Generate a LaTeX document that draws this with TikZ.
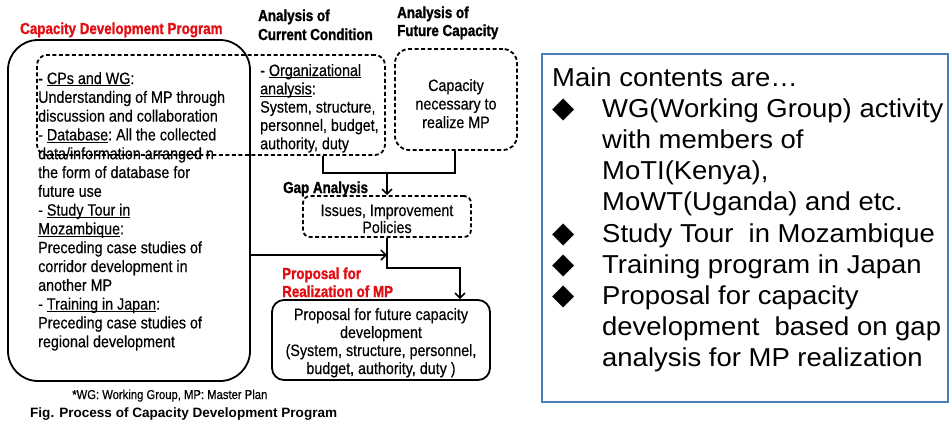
\documentclass[tikz,border=0pt]{standalone}
\usepackage{fontspec}
\setmainfont{Liberation Sans}
\newfontfamily\gothic[FakeStretch=0.87,FakeBold=0.4]{Liberation Sans}
\newfontfamily\headfont[FakeStretch=0.84,BoldFeatures={FakeBold=1.3}]{Liberation Sans}
\newfontfamily\bulletfont{DejaVu Sans}
\newfontfamily\rbfont[FakeStretch=1.06]{Liberation Sans}
\usetikzlibrary{arrows.meta}
\definecolor{cdred}{RGB}{225,15,20}
\definecolor{framebl}{RGB}{74,126,187}
\newcommand\ulx[1]{\underline{\smash{#1}}}
\begin{document}
\begin{tikzpicture}[x=1bp,y=-1bp,
  solidbox/.style={draw, line width=1.8bp, rounded corners=#1, inner sep=0},
  dashbox/.style={draw, line width=1.8bp, dash pattern=on 4bp off 2.5bp, rounded corners=#1, inner sep=0},
  conn/.style={line width=1.7bp},
  arr/.style={conn, -{Straight Barb[length=5bp,width=10bp,line width=1.5bp]}},
  txt/.style={font=\gothic\fontsize{16.5}{18.8}\selectfont, inner sep=0, anchor=base west},
  ctxt/.style={font=\gothic\fontsize{16.5}{18.8}\selectfont, inner sep=0, anchor=base},
  hd/.style={font=\headfont\bfseries\fontsize{16}{19}\selectfont, inner sep=0, anchor=base west},
  rtxt/.style={font=\rbfont\fontsize{26}{30}\selectfont, inner sep=0, anchor=base west},
  bul/.style={font=\bulletfont\fontsize{29}{30}\selectfont, inner sep=0, anchor=base}]
\useasboundingbox (0,0) rectangle (950,421);

% boxes
\node[solidbox=30bp, minimum width=242bp, minimum height=341bp] (cdp) at (129,210.5) {};
\node[dashbox=10bp, minimum width=348bp, minimum height=100bp] (cur) at (211,105) {};
\node[dashbox=14bp, minimum width=122bp, minimum height=101bp] (fut) at (456,99.5) {};
\node[dashbox=7bp, minimum width=168bp, minimum height=41bp] (gap) at (387,216.5) {};
\node[solidbox=12bp, minimum width=218bp, minimum height=80bp] (prop) at (381,340) {};
\node[draw=framebl, line width=1.6bp, minimum width=406bp, minimum height=348bp, inner sep=0] (rbox) at (745,228) {};

% headers
\node[hd, text=cdred] (h1) at (20,34) {Capacity Development Program};
\node[hd] (h2a) at (258,21) {Analysis of};
\node[hd] (h2b) at (258,40) {Current Condition};
\node[hd] (h3a) at (397,18) {Analysis of};
\node[hd] (h3b) at (397,36) {Future Capacity};
\node[hd] (h4) at (283,193) {Gap Analysis};
\node[hd, text=cdred] (h5a) at (282,279) {Proposal for};
\node[hd, text=cdred] (h5b) at (282,297) {Realization of MP};

% left box text
\foreach \t [count=\i] in {
 {- \ulx{CPs and WG}:},
 {Understanding of MP through},
 {discussion and collaboration},
 {- \ulx{Database}:\ All the collected},
 {data/information arranged n},
 {the form of database for},
 {future use},
 {- \ulx{Study Tour in}},
 {\ulx{Mozambique}:},
 {Preceding case studies of},
 {corridor development in},
 {another MP},
 {- \ulx{Training in Japan}:},
 {Preceding case studies of},
 {regional development}}
 \node[txt] (L\i) at (38,{84+(\i-1)*18.8}) {\t};

% current condition text
\foreach \t [count=\i] in {
 {- \ulx{Organizational}},
 {\ulx{analysis}:},
 {System, structure,},
 {personnel, budget,},
 {authority, duty}}
 \node[txt] (C\i) at (260,{76+(\i-1)*18.3}) {\t};

% future capacity text
\foreach \t [count=\i] in {{Capacity},{necessary to},{realize MP}}
 \node[ctxt] (F\i) at (456,{91+(\i-1)*18.5}) {\t};

% gap text
\node[ctxt] (G1) at (387,216) {Issues, Improvement};
\node[ctxt] (G2) at (387,233) {Policies};

% proposal text
\foreach \t [count=\i] in {
 {Proposal for future capacity},
 {development},
 {(System, structure, personnel,},
 {budget, authority, duty )}}
 \node[ctxt] (P\i) at (381,{320+(\i-1)*18}) {\t};

% connectors
\coordinate (j) at (387,173);
\coordinate (c1) at (323,173);
\coordinate (f1) at (455,173);
\draw[conn] (c1 |- cur.south) -- (c1) -- (j);
\draw[conn] (f1 |- fut.south) -- (f1) -- (j);
\draw[arr] (j) -- (gap.north);
\coordinate (g1) at (387,268);
\coordinate (g2) at (460,268);
\draw[arr] (gap.south) -- (g1) -- (g2) -- (g2 |- prop.north);
\coordinate (hh) at (387,255);
\draw[arr] (hh -| cdp.east) -- (hh);

% notes
\node[font=\gothic\fontsize{13}{15}\selectfont, inner sep=0, anchor=base west] (note) at (72,399) {*WG: Working Group, MP: Master Plan};
\node[font=\bfseries\fontsize{13.6}{16}\selectfont, inner sep=0, anchor=base west] (caption) at (30,417) {Fig. Process of Capacity Development Program};

% right box text
\node[rtxt] (R1) at (552,86) {Main contents are…};
\node[rtxt] (R2) at (602,117.2) {WG(Working Group) activity};
\node[rtxt] (R3) at (602,148.4) {with members of};
\node[rtxt] (R4) at (602,179.6) {MoTI(Kenya),};
\node[rtxt] (R5) at (602,210.8) {MoWT(Uganda) and etc.};
\node[rtxt] (R6) at (602,242) {Study Tour\ \ in Mozambique};
\node[rtxt] (R7) at (602,273.2) {Training program in Japan};
\node[rtxt] (R8) at (602,304.4) {Proposal for capacity};
\node[rtxt] (R9) at (602,335.6) {development\ \ based on gap};
\node[rtxt] (R10) at (602,366.8) {analysis for MP realization};
\node[bul] (B1) at (564,117.2) {◆};
\node[bul] (B2) at (564,242) {◆};
\node[bul] (B3) at (564,273.2) {◆};
\node[bul] (B4) at (564,304.4) {◆};
\end{tikzpicture}
\end{document}
